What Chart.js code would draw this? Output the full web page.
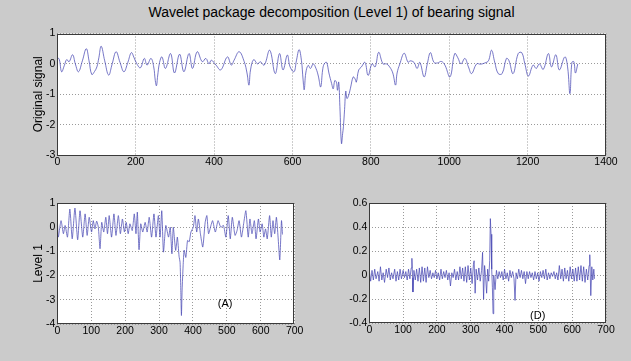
<!DOCTYPE html>
<html>
<head>
<meta charset="utf-8">
<script src="https://cdn.jsdelivr.net/npm/chart.js@4"></script>
<style>
body{margin:0;background:#cbcbcb;width:631px;height:361px;position:relative;overflow:hidden;font-family:"Liberation Sans",Arial,sans-serif}
canvas{position:absolute}
#title{position:absolute;left:57px;width:549px;top:4px;text-align:center;font-size:14px;color:#000}
</style>
</head>
<body>
<div id="title">Wavelet package decomposition (Level 1) of bearing signal</div>
<canvas id="c1" width="631" height="180" style="left:0;top:0"></canvas>
<canvas id="c2" width="320" height="176" style="left:0;top:185px"></canvas>
<canvas id="c3" width="311" height="176" style="left:320px;top:185px"></canvas>
<script>
// original signal (sample index, amplitude)
const sigX=[0,5,11,18,24,30,39,46,54,64,74,81,88,95,101,106,112,121,131,140,150,160,170,180,189,196,203,212,222,229,239,246,250,253,256,261,267,276,289,299,312,323,336,345,357,370,379,387,393,405,417,434,444,451,464,477,484,489,493,501,511,518,528,542,556,567,576,587,594,604,610,617,623,627,630,634,640,646,653,660,666,672,677,681,687,693,700,704,708,712,715,718,721,725,728,730,733,736,739,743,748,755,760,763,769,776,785,793,803,811,820,831,840,848,856,863,867,874,885,895,900,910,918,925,936,944,952,961,970,980,989,1002,1014,1022,1030,1040,1049,1057,1070,1080,1091,1100,1108,1116,1125,1135,1146,1152,1163,1176,1185,1193,1202,1214,1222,1230,1240,1253,1261,1272,1281,1295,1302,1308,1313,1318,1322,1328];
const sigY=[0.22,0.15,-0.26,-0.05,0.14,0.07,0.3,0,-0.26,0.1,0.5,0.1,-0.35,-0.25,-0.1,0.2,0.58,0.1,-0.37,0,0.4,0.05,-0.26,0.05,0.37,0.2,0,-0.13,0.18,-0.04,0.18,-0.1,-0.55,-0.72,-0.4,0.05,0.23,-0.15,0.34,-0.3,0.32,-0.26,0.34,-0.15,0.4,0.07,0.18,0,0.12,-0.04,-0.2,0.23,-0.04,0.12,0.4,0.07,-0.3,-0.7,-0.2,0.14,0,0.07,-0.04,0.45,-0.32,0.34,-0.2,0.29,-0.1,-0.26,0.1,0.47,0.1,-0.5,-0.85,-0.3,-0.05,-0.15,0,-0.15,-0.4,-0.76,-0.2,0,0.05,-0.3,-0.65,-0.82,-0.55,-0.6,-0.87,-0.6,-1.4,-2.62,-2.3,-2.07,-1.5,-0.9,-1.14,-1.05,-0.8,-0.43,-0.5,-0.6,-0.2,-0.1,0.05,-0.38,0,-0.1,0.38,0,0,-0.1,-0.3,-0.7,-0.3,0,0.35,0.05,0.1,0.05,-0.15,0.05,-0.43,0,0.37,0.05,0.03,0.08,-0.04,-0.43,0.34,0.2,0,0.18,-0.1,-0.32,0,-0.01,0.03,0.1,0.45,0.06,-0.32,-0.32,0.18,0.12,-0.32,0.34,0.37,0,-0.4,-0.04,-0.15,0,-0.18,0.34,-0.1,0.3,-0.2,0.23,-0.1,-0.98,0.05,0.07,-0.3,0];

// level 1 approximation (A)
const aX=[0,3,11,18,23,30,37,44,52,60,67,75,82,88,94,101,106,111,116,121,126,131,137,143,148,153,160,167,173,180,186,192,198,203,209,214,221,227,232,236,241,246,252,259,265,271,278,285,291,298,303,308,313,320,328,333,338,342,349,354,359,362,364,366,368,371,374,379,384,389,394,401,406,411,416,422,429,436,441,446,453,458,466,474,482,490,497,504,510,516,524,530,536,543,550,556,563,568,574,581,586,593,598,604,609,614,619,626,631,636,641,646,651,656,661,664];
const aY=[0.34,-0.41,0.27,-0.27,0.07,-0.41,0.75,-0.48,0.79,-0.52,0.68,-0.41,0.55,-0.34,0.41,-0.2,0.27,-0.07,0.25,0,-0.89,0.2,-0.2,0.41,-0.27,0.48,-0.41,0.55,-0.34,0.48,-0.27,0.34,-0.2,0.2,-0.27,0.14,-0.14,0.55,-0.27,0.62,-0.93,0.14,-0.2,0.2,-0.2,0.41,-0.41,0.55,-0.41,0.48,-0.41,0.68,-1.03,0.07,-0.41,0,-1.1,0,-0.96,-0.41,-1.2,-1.45,-2.5,-3.65,-2.6,-1.6,-0.95,-1.25,-0.55,-0.6,-0.2,0,0.48,-0.2,0.34,-0.27,-0.82,0.2,0.48,-0.27,0.07,0.27,-0.2,0.27,0,0.07,-0.41,0.48,-0.48,0.41,-0.34,-0.14,0.27,-0.41,0.2,0.68,-0.41,0.34,-0.27,0.27,-0.48,0.34,-0.2,0.14,-0.41,-0.07,-0.48,0.48,-0.41,0.27,-0.27,0.41,-0.41,-1.35,0.27,-0.3];

// level 1 detail (D)
const dX=[0,4,8,12,16,20,25,29,33,37,41,45,50,54,58,62,66,70,75,79,83,87,91,95,100,104,108,112,116,120,124,126,128,129,132,136,140,144,148,152,156,160,164,168,172,176,180,184,188,192,196,200,204,208,212,216,220,224,228,232,236,240,244,248,252,256,260,264,268,272,276,280,284,288,292,296,300,304,308,310,313,316,320,324,328,332,335,338,341,344,347,350,353,356,358,360,362,364,366,368,372,376,380,384,388,392,396,400,404,408,412,416,420,424,428,431,434,438,442,446,450,454,458,462,466,470,474,478,482,486,490,494,498,502,506,510,514,518,522,526,530,534,538,542,546,550,554,558,562,566,570,574,578,582,586,590,594,598,602,606,610,614,618,622,626,630,634,638,642,646,650,652,655,658,661,664,666];
const dY=[0.04,-0.05,0.04,-0.04,0.05,-0.03,0.03,-0.05,0.07,-0.04,0.02,-0.06,0.05,-0.02,0.06,-0.04,0.02,-0.03,0.05,-0.05,0.03,-0.04,0.05,-0.03,0.04,-0.02,0.03,-0.04,0.05,-0.03,0.06,0.14,-0.02,-0.14,0.04,-0.04,0.05,-0.05,0.06,-0.06,0.07,-0.05,0.06,-0.06,0.07,-0.02,0.04,-0.03,0.02,-0.02,0.04,-0.03,0.02,-0.04,0.05,-0.03,0.03,-0.02,0.04,-0.04,0.02,-0.09,0.02,-0.02,0.05,-0.04,0.03,-0.04,0.07,-0.03,0.06,-0.05,0.07,-0.06,0.08,-0.04,0.06,-0.07,0.09,0.12,-0.15,0.05,-0.04,0.06,-0.05,0.04,0.19,-0.2,0.08,-0.02,-0.15,0.05,-0.05,0.12,0.47,0.34,0.05,-0.1,-0.32,0,-0.12,0.04,-0.03,0.03,-0.02,0.03,-0.04,0.05,-0.03,0.02,-0.05,0.04,-0.02,0.03,-0.03,-0.21,0.02,-0.03,0.05,-0.02,0.04,-0.03,0.03,-0.07,0.03,-0.03,0.03,-0.02,0.02,-0.04,0.03,-0.03,0.02,-0.05,0.03,-0.02,0.04,-0.03,0.05,-0.04,0.02,-0.03,0.02,-0.01,0.03,-0.03,0.02,-0.04,0.08,-0.03,0.05,-0.05,0.06,-0.03,0.04,-0.05,0.07,-0.03,0.05,-0.05,0.06,-0.05,0.07,-0.04,0.08,-0.05,0.07,-0.06,0.05,-0.04,0.08,0.17,-0.17,0.07,-0.04,0.05,-0.03];

Chart.defaults.font.family='"Liberation Sans", Arial, sans-serif';
Chart.defaults.font.size=10.5;
Chart.defaults.color='#000';

const frame={
 id:'frame',
 beforeDraw(c){
  const a=c.chartArea,g=c.ctx;
  g.save();g.fillStyle='#fff';g.fillRect(a.left,a.top,a.width,a.height);g.restore();
 },
 afterDraw(c,args,o){
  const a=c.chartArea,g=c.ctx;
  g.save();
  g.strokeStyle='#3a3a3a';g.lineWidth=1;
  g.strokeRect(Math.round(a.left)+0.5,Math.round(a.top)+0.5,Math.round(a.width)-1,Math.round(a.height)-1);
  if(o.note){
   g.fillStyle='#000';g.font='11px "Liberation Sans", Arial';g.textAlign='center';g.textBaseline='middle';
   g.fillText(o.note.text,c.scales.x.getPixelForValue(o.note.x),c.scales.y.getPixelForValue(o.note.y));
  }
  g.restore();
 }
};

function pts(xs,ys){return xs.map((x,i)=>({x,y:ys[i]}));}

function makeChart(id,xs,ys,o){
 return new Chart(document.getElementById(id),{
  type:'line',
  data:{datasets:[{data:pts(xs,ys),borderColor:'#4a4ab4',borderWidth:0.75,pointRadius:0,tension:o.tension,fill:false}]},
  options:{
   responsive:false,animation:false,
   layout:{padding:o.pad},
   plugins:{legend:{display:false},tooltip:{enabled:false},frame:{note:o.note}},
   scales:{
    x:{type:'linear',min:0,max:o.xmax,
     ticks:{stepSize:o.xstep,padding:1,maxRotation:0,autoSkip:false,callback:v=>String(v)},
     grid:{color:'#9a9a9a',drawTicks:false},border:{display:false,dash:[1,2]},
     afterFit:s=>{s.height=20;}},
    y:{min:o.ymin,max:o.ymax,
     ticks:{stepSize:o.ystep,padding:2,callback:v=>String(Math.round(v*10)/10)},
     grid:{color:'#9a9a9a',drawTicks:false},border:{display:false,dash:[1,2]},
     title:{display:!!o.ylabel,text:o.ylabel,font:{size:12},padding:{top:31,bottom:0}},
     afterFit:s=>{s.width=o.yw;}}
   }
  },
  plugins:[frame]
 });
}

makeChart('c1',sigX,sigY,{tension:0.4,xmax:1400,xstep:200,ymin:-3,ymax:1,ystep:1,ylabel:'Original signal',yw:57.3,pad:{top:33.5,right:25,bottom:5,left:0}});
makeChart('c2',aX,aY,{tension:0.2,xmax:700,xstep:100,ymin:-4,ymax:1,ystep:1,ylabel:'Level 1',yw:57.3,pad:{top:18,right:25.3,bottom:17,left:0},note:{text:'(A)',x:495,y:-3.17}});
makeChart('c3',dX,dY,{tension:0,xmax:700,xstep:100,ymin:-0.4,ymax:0.6,ystep:0.2,ylabel:'',yw:49.3,pad:{top:18,right:25,bottom:17.7,left:0},note:{text:'(D)',x:498,y:-0.34}});
</script>
</body>
</html>
